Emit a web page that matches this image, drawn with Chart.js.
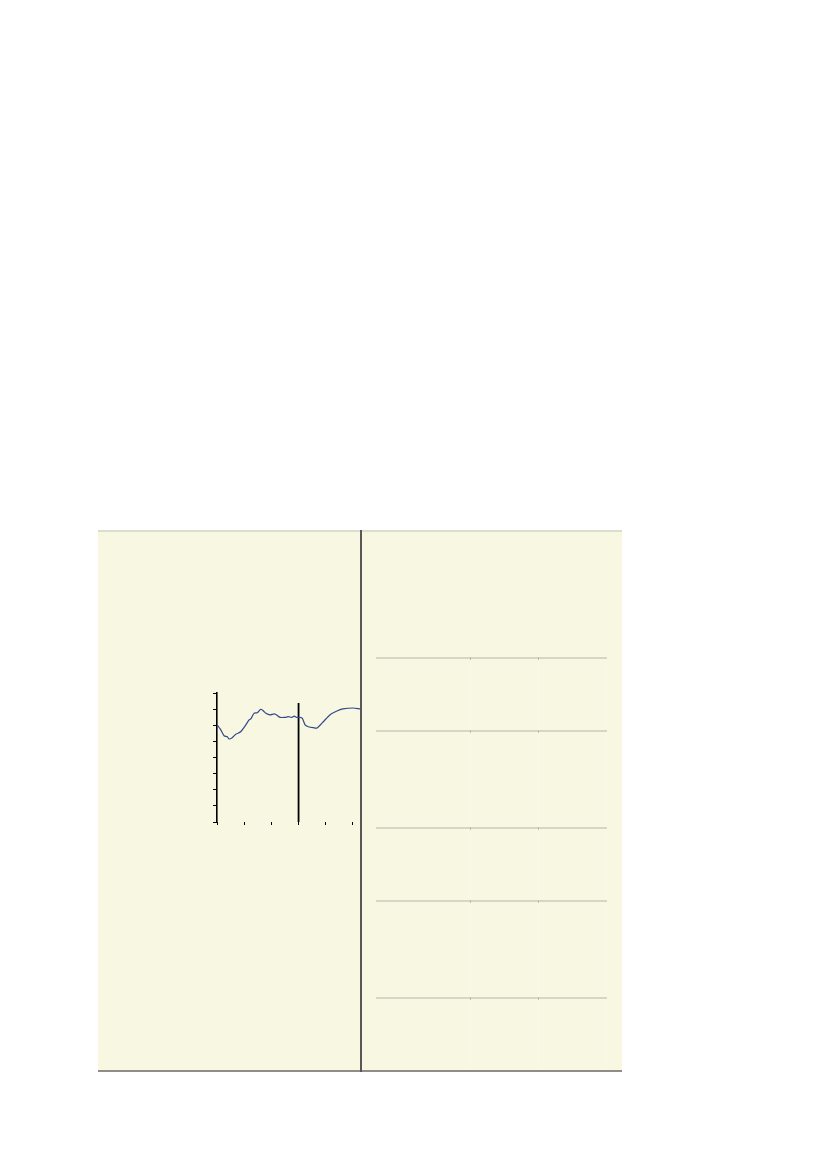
<!DOCTYPE html>
<html>
<head>
<meta charset="utf-8">
<script src="https://cdn.jsdelivr.net/npm/chart.js"></script>
<style>
  html, body { margin: 0; padding: 0; background: #ffffff; }
  body { width: 826px; height: 1169px; position: relative; overflow: hidden; font-family: "Liberation Sans", Arial, sans-serif; }
  .panel { position: absolute; left: 98px; top: 530px; width: 524px; height: 542px; background: #f8f7e2;
           border-top: 2px solid #dcdccf; border-bottom: 2px solid #8e8e88; box-sizing: border-box; }
  .divider { position: absolute; left: 360px; top: 530px; width: 2px; height: 542px; background: #58585a; }
  .rule { position: absolute; left: 376px; width: 231px; height: 2px; background: #d7d6c4; }
  .col { position: absolute; top: 658px; width: 1px; height: 412px; background: #faf9e9; }
  .tick { position: absolute; width: 1px; height: 3px; background: #bdbcae; }
  #wrap { position: absolute; left: 180px; top: 680px; width: 181px; height: 160px; }
</style>
</head>
<body>
<div class="panel"></div>

<div class="col" style="left:470px"></div>
<div class="col" style="left:538px"></div>
<div class="col" style="left:606px"></div>
<div class="rule" style="top:657px"></div>
<div class="rule" style="top:730px"></div>
<div class="rule" style="top:827px"></div>
<div class="rule" style="top:900px"></div>
<div class="rule" style="top:997px"></div>
<div class="tick" style="left:470px;top:657px"></div>
<div class="tick" style="left:538px;top:657px"></div>
<div class="tick" style="left:470px;top:730px"></div>
<div class="tick" style="left:538px;top:730px"></div>
<div class="tick" style="left:470px;top:827px"></div>
<div class="tick" style="left:538px;top:827px"></div>
<div class="tick" style="left:470px;top:900px"></div>
<div class="tick" style="left:538px;top:900px"></div>
<div class="tick" style="left:470px;top:997px"></div>
<div class="tick" style="left:538px;top:997px"></div>

<div id="wrap"><canvas id="lineChart" width="181" height="160"></canvas></div>
<div class="divider"></div>

<script>
  // series (x in tick steps, y in tick steps)
  const seriesX = [0, 0.04, 0.14, 0.26, 0.38, 0.44, 0.56, 0.69, 0.87, 1.06, 1.18, 1.26, 1.36, 1.48, 1.61, 1.70,
                   1.80, 1.95, 2.13, 2.32, 2.50, 2.62, 2.75, 2.84, 2.93, 3.05, 3.14, 3.24, 3.36, 3.54, 3.68,
                   3.90, 4.15, 4.41, 4.63, 5.00, 5.26];
  const seriesY = [5.98, 5.95, 5.71, 5.35, 5.29, 5.15, 5.23, 5.44, 5.60, 6.02, 6.33, 6.43, 6.74, 6.78, 6.99, 6.90,
                   6.74, 6.64, 6.70, 6.49, 6.49, 6.53, 6.49, 6.57, 6.49, 6.49, 6.43, 6.02, 5.91, 5.85, 5.83,
                   6.20, 6.64, 6.88, 7.01, 7.07, 7.01];
  const markerX = [3, 3];
  const markerY = [0, 7.38];
  const xTicks = [0, 1, 2, 3, 4, 5];
  const yMin = 0;
  const yMax = 8;
  const xMax = 5.26;

  const toPoints = (xs, ys) => xs.map((x, i) => ({ x: x, y: ys[i] }));

  new Chart(document.getElementById("lineChart"), {
    type: "line",
    data: {
      datasets: [
        {
          label: "series",
          data: toPoints(seriesX, seriesY),
          borderColor: "#33488c",
          borderWidth: 1.2,
          pointRadius: 0,
          tension: 0.25,
          fill: false,
        },
        {
          label: "marker",
          data: toPoints(markerX, markerY),
          borderColor: "#000000",
          borderWidth: 1.8,
          pointRadius: 0,
          fill: false,
          clip: 0,
        },
      ],
    },
    options: {
      responsive: false,
      animation: false,
      events: [],
      layout: { padding: { left: 33, right: 1, top: 13, bottom: 14 } },
      plugins: {
        legend: { display: false },
        tooltip: { enabled: false },
      },
      scales: {
        x: {
          type: "linear",
          min: 0,
          max: xMax,
          afterBuildTicks: (scale) => {
            scale.ticks = xTicks.map((v) => ({ value: v }));
          },
          afterFit: (scale) => {
            scale.height = 4;
          },
          ticks: { display: false },
          border: { display: false },
          grid: { drawOnChartArea: false, color: "#000000", tickLength: 3, lineWidth: 1 },
        },
        y: {
          min: yMin,
          max: yMax,
          ticks: { display: false, stepSize: 1 },
          afterFit: (scale) => {
            scale.width = 4;
          },
          border: { display: true, color: "#000000", width: 1.6 },
          grid: { drawOnChartArea: false, color: "#000000", tickLength: 4, lineWidth: 1 },
        },
      },
    },
  });
</script>
</body>
</html>
